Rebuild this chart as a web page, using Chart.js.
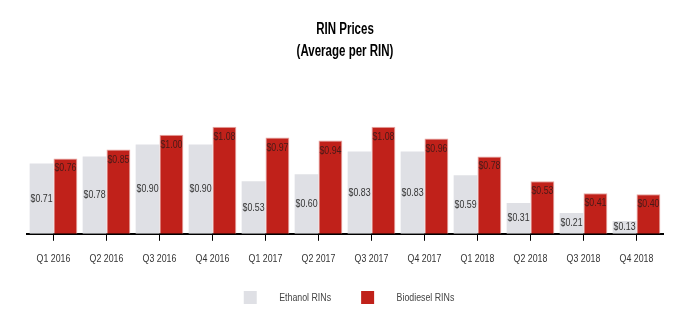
<!DOCTYPE html>
<html>
<head>
<meta charset="utf-8">
<script src="https://cdn.jsdelivr.net/npm/chart.js@4/dist/chart.umd.min.js"></script>
<style>
  html, body { margin: 0; padding: 0; background: #ffffff; }
  #wrap { width: 696px; height: 333px; position: relative; }
</style>
</head>
<body>
<div id="wrap"><canvas id="c" width="696" height="333"></canvas></div>
<script>
const categories = ['Q1 2016','Q2 2016','Q3 2016','Q4 2016','Q1 2017','Q2 2017','Q3 2017','Q4 2017','Q1 2018','Q2 2018','Q3 2018','Q4 2018'];
const ethanolValues = [0.71,0.78,0.90,0.90,0.53,0.60,0.83,0.83,0.59,0.31,0.21,0.13];
const biodieselValues = [0.76,0.85,1.00,1.08,0.97,0.94,1.08,0.96,0.78,0.53,0.41,0.40];
const seriesNames = ['Ethanol RINs','Biodiesel RINs'];
const titleLines = ['RIN Prices','(Average per RIN)'];

const FONT = '"Liberation Sans", Arial, sans-serif';
const ETH_COLOR = '#dfe0e5';
const BIO_COLOR = '#c0211a';

// The reference uses a condensed face; emulate it by squeezing text horizontally.
const canvas = document.getElementById('c');
const c2d = canvas.getContext('2d');
const origFill = c2d.fillText;
const origMeasure = c2d.measureText;
function squeeze(ctx) { return /bold/.test(ctx.font) ? 0.72 : 0.8; }
c2d.fillText = function (t, x, y, maxW) {
  const s = squeeze(this);
  this.save();
  this.translate(x, y);
  this.scale(s, 1);
  if (maxW === undefined) origFill.call(this, t, 0, 0);
  else origFill.call(this, t, 0, 0, maxW / s);
  this.restore();
};
c2d.measureText = function (t) {
  const m = origMeasure.call(this, t);
  const s = squeeze(this);
  return {
    width: m.width * s,
    actualBoundingBoxAscent: m.actualBoundingBoxAscent,
    actualBoundingBoxDescent: m.actualBoundingBoxDescent,
    actualBoundingBoxLeft: m.actualBoundingBoxLeft * s,
    actualBoundingBoxRight: m.actualBoundingBoxRight * s
  };
};

function legendSwatch(color) {
  const cv = document.createElement('canvas');
  cv.width = 46; cv.height = 13;
  const g = cv.getContext('2d');
  g.fillStyle = color;
  g.fillRect(16, 0, 13, 13);
  return cv;
}
const swatches = [legendSwatch(ETH_COLOR), legendSwatch(BIO_COLOR)];

const legendNudge = {
  id: 'legendNudge',
  afterLayout(chart) {
    if (chart.legend) { chart.legend.left -= 4; chart.legend.right -= 4; }
  }
};

const valueLabels = {
  id: 'valueLabels',
  afterDatasetsDraw(chart) {
    const ctx = chart.ctx;
    ctx.save();
    ctx.font = '11px ' + FONT;
    ctx.textAlign = 'center';
    ctx.textBaseline = 'middle';
    chart.data.datasets.forEach((ds, di) => {
      const meta = chart.getDatasetMeta(di);
      meta.data.forEach((el, i) => {
        const p = el.getProps(['x', 'y', 'base'], true);
        const txt = '$' + ds.data[i].toFixed(2);
        let y;
        if (di === 0) {
          y = (p.y + p.base) / 2;
          ctx.fillStyle = '#333333';
        } else {
          y = p.y + 10;
          ctx.fillStyle = '#461a18';
        }
        ctx.fillText(txt, p.x, y);
      });
    });
    ctx.restore();
  }
};

new Chart(canvas, {
  type: 'bar',
  data: {
    labels: categories,
    datasets: [
      { label: seriesNames[0], data: ethanolValues, backgroundColor: ETH_COLOR, borderWidth: 0 },
      { label: seriesNames[1], data: biodieselValues, backgroundColor: BIO_COLOR, borderColor: '#e7a6a2', borderWidth: 1 }
    ]
  },
  options: {
    responsive: false,
    animation: false,
    events: [],
    layout: { padding: { left: 27, right: 33, top: 6, bottom: 20 } },
    datasets: { bar: { categoryPercentage: 0.9, barPercentage: 1.0 } },
    scales: {
      x: {
        grid: { display: true, drawOnChartArea: false, offset: false, color: '#000000', tickLength: 7, tickWidth: 1 },
        border: { display: true, color: '#000000', width: 2 },
        ticks: { color: '#333333', font: { family: FONT, size: 11 }, padding: 12, maxRotation: 0, autoSkip: false }
      },
      y: {
        display: false,
        min: 0,
        max: 1.2
      }
    },
    plugins: {
      title: {
        display: true,
        text: titleLines,
        color: '#000000',
        font: { family: FONT, size: 16, weight: 'bold', lineHeight: 1.4 },
        padding: { top: 12, bottom: 52 }
      },
      legend: {
        display: true,
        position: 'bottom',
        labels: {
          color: '#444444',
          font: { family: FONT, size: 11 },
          usePointStyle: true,
          pointStyleWidth: 46,
          boxHeight: 13,
          padding: 14,
          generateLabels(chart) {
            return chart.data.datasets.map((ds, i) => ({
              text: ds.label,
              fillStyle: ds.backgroundColor,
              strokeStyle: ds.backgroundColor,
              lineWidth: 0,
              pointStyle: swatches[i],
              hidden: false,
              datasetIndex: i,
              fontColor: '#444444'
            }));
          }
        }
      },
      tooltip: { enabled: false }
    }
  },
  plugins: [valueLabels, legendNudge]
});
</script>
</body>
</html>
